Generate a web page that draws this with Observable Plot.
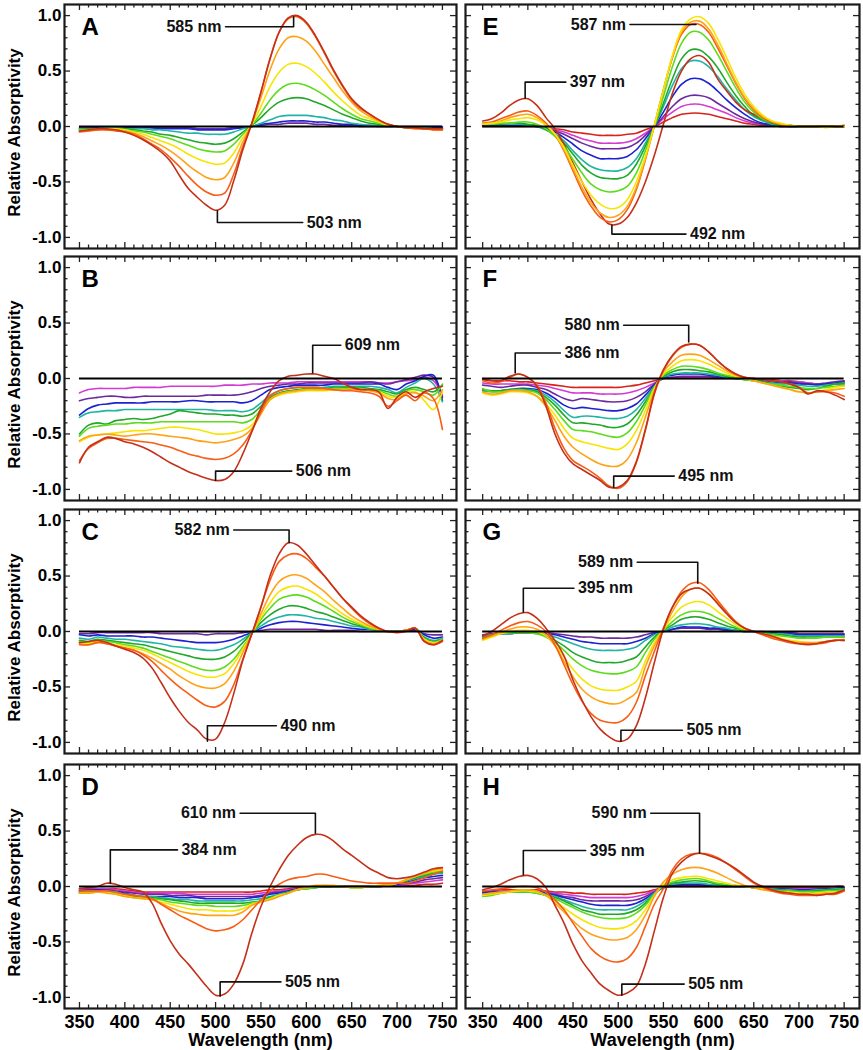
<!DOCTYPE html>
<html><head><meta charset="utf-8">
<script src="https://cdn.jsdelivr.net/npm/d3@7"></script>
<script src="https://cdn.jsdelivr.net/npm/@observablehq/plot@0.6"></script>
<style>
body{margin:0;background:#fff;font-family:"Liberation Sans",Arial,sans-serif;}
#fig{position:relative;width:863px;height:1050px;background:#fff;}
#fig svg{position:absolute;overflow:visible;}
</style></head><body><div id="fig"></div>
<script>
// ---------- data ----------
const wavelengths = [350,360,370,380,390,400,410,420,430,440,450,460,470,480,490,500,510,520,530,540,550,560,570,580,590,600,610,620,630,640,650,660,670,680,690,700,710,720,730,740,750];
const xTickLabels = [350,400,450,500,550,600,650,700,750];
const yTickLabels = [-1.0,-0.5,0.0,0.5,1.0];
const yTicks = [-1.0,-0.9,-0.8,-0.7,-0.6,-0.5,-0.4,-0.3,-0.2,-0.1,0,0.1,0.2,0.3,0.4,0.5,0.6,0.7,0.8,0.9,1.0];
const colorOf = {dr:"#c4301a", or:"#f75d14", og:"#ffa216", ye:"#f7e400", lg:"#5cdc1c", gr:"#21a82a", te:"#22b4a4", bl:"#1c22cf", pu:"#6c2a9e", ma:"#d43bd4", rd:"#d8231d"};

// Panel A
const A_keys = ["pu","bl","te","gr","lg","ye","og","or","dr"];
const A_values = [
[-0.01,-0.01,-0.01,-0.01,-0.01,-0.01,-0.01,-0.01,-0.01,-0.01,-0.01,-0.01,-0.01,-0.02,-0.02,-0.02,-0.02,-0.01,-0.01,0.00,0.01,0.02,0.02,0.03,0.03,0.03,0.02,0.02,0.01,0.01,0.01,0.00,0.00,0.00,0.00,0.00,0.00,0.00,0.00,0.00,0.00],
[-0.02,-0.02,-0.01,-0.01,-0.01,-0.01,-0.01,-0.01,-0.01,-0.02,-0.02,-0.02,-0.02,-0.03,-0.03,-0.03,-0.03,-0.02,-0.01,0.00,0.02,0.03,0.04,0.05,0.05,0.05,0.04,0.04,0.03,0.02,0.02,0.01,0.01,0.00,0.00,0.00,-0.01,-0.01,-0.01,-0.01,-0.01],
[-0.02,-0.02,-0.02,-0.01,-0.01,-0.02,-0.02,-0.02,-0.03,-0.03,-0.04,-0.05,-0.06,-0.06,-0.07,-0.07,-0.07,-0.05,-0.02,0.00,0.03,0.06,0.09,0.10,0.10,0.10,0.09,0.08,0.06,0.05,0.03,0.02,0.01,0.01,0.00,0.00,-0.01,-0.01,-0.01,-0.02,-0.02],
[-0.03,-0.02,-0.02,-0.02,-0.02,-0.02,-0.03,-0.04,-0.05,-0.07,-0.08,-0.10,-0.12,-0.14,-0.15,-0.16,-0.15,-0.11,-0.05,0.01,0.08,0.16,0.22,0.25,0.26,0.25,0.22,0.19,0.15,0.11,0.08,0.05,0.03,0.02,0.01,0.00,-0.01,-0.01,-0.02,-0.02,-0.02],
[-0.03,-0.03,-0.02,-0.02,-0.02,-0.03,-0.04,-0.05,-0.07,-0.09,-0.11,-0.14,-0.17,-0.20,-0.22,-0.23,-0.22,-0.16,-0.07,0.01,0.12,0.24,0.33,0.38,0.39,0.37,0.33,0.28,0.22,0.16,0.11,0.07,0.05,0.03,0.01,0.00,-0.01,-0.01,-0.02,-0.02,-0.02],
[-0.04,-0.03,-0.03,-0.02,-0.02,-0.03,-0.05,-0.07,-0.10,-0.13,-0.16,-0.20,-0.25,-0.29,-0.32,-0.34,-0.33,-0.24,-0.10,0.02,0.18,0.36,0.49,0.56,0.57,0.54,0.48,0.40,0.31,0.23,0.16,0.10,0.07,0.04,0.01,0.00,-0.01,-0.01,-0.02,-0.03,-0.03],
[-0.04,-0.04,-0.03,-0.03,-0.03,-0.04,-0.06,-0.09,-0.13,-0.17,-0.22,-0.28,-0.35,-0.41,-0.46,-0.48,-0.46,-0.33,-0.14,0.03,0.26,0.51,0.70,0.80,0.81,0.77,0.68,0.56,0.44,0.32,0.22,0.14,0.09,0.05,0.02,0.00,-0.01,-0.02,-0.02,-0.03,-0.03],
[-0.05,-0.04,-0.03,-0.03,-0.04,-0.05,-0.07,-0.11,-0.16,-0.21,-0.28,-0.36,-0.45,-0.53,-0.59,-0.62,-0.60,-0.43,-0.18,0.03,0.31,0.61,0.85,0.97,0.99,0.93,0.81,0.66,0.50,0.36,0.24,0.16,0.11,0.06,0.02,0.00,-0.01,-0.02,-0.02,-0.03,-0.03],
[-0.04,-0.03,-0.02,-0.02,-0.03,-0.05,-0.08,-0.12,-0.17,-0.23,-0.31,-0.44,-0.56,-0.64,-0.71,-0.755,-0.71,-0.49,-0.21,0.03,0.31,0.61,0.85,0.98,1.00,0.94,0.82,0.67,0.51,0.37,0.25,0.17,0.11,0.06,0.02,0.00,-0.01,-0.01,-0.02,-0.02,-0.02]
];
const A_notes = [
  {label:"585 nm", x:586, y:0.99, lx:511, ly:0.90, anchor:"end"},
  {label:"503 nm", x:502, y:-0.76, lx:596, ly:-0.865, anchor:"start"}
];

// Panel B
const B_keys = ["ma","pu","bl","te","gr","lg","ye","og","or","dr"];
const B_values = [
[-0.13,-0.10,-0.09,-0.09,-0.09,-0.09,-0.08,-0.08,-0.08,-0.08,-0.07,-0.07,-0.07,-0.07,-0.07,-0.07,-0.06,-0.06,-0.06,-0.05,-0.05,-0.04,-0.04,-0.04,-0.03,-0.03,-0.03,-0.03,-0.03,-0.03,-0.03,-0.03,-0.03,-0.04,-0.04,-0.03,-0.02,-0.01,0.01,-0.02,-0.15],
[-0.20,-0.18,-0.17,-0.16,-0.16,-0.17,-0.17,-0.16,-0.16,-0.16,-0.16,-0.16,-0.16,-0.16,-0.15,-0.15,-0.15,-0.15,-0.14,-0.12,-0.09,-0.07,-0.06,-0.05,-0.05,-0.04,-0.04,-0.04,-0.04,-0.04,-0.04,-0.04,-0.03,-0.04,-0.05,-0.03,-0.01,0.01,0.03,0.01,-0.17],
[-0.33,-0.27,-0.24,-0.23,-0.22,-0.22,-0.22,-0.22,-0.21,-0.21,-0.21,-0.21,-0.20,-0.20,-0.21,-0.21,-0.21,-0.21,-0.22,-0.20,-0.15,-0.10,-0.08,-0.07,-0.06,-0.06,-0.06,-0.06,-0.05,-0.05,-0.05,-0.05,-0.05,-0.05,-0.08,-0.10,-0.05,-0.02,0.02,0.03,-0.20],
[-0.35,-0.31,-0.30,-0.29,-0.29,-0.28,-0.28,-0.28,-0.28,-0.28,-0.28,-0.28,-0.28,-0.28,-0.28,-0.29,-0.29,-0.29,-0.30,-0.28,-0.22,-0.15,-0.11,-0.09,-0.08,-0.08,-0.08,-0.08,-0.07,-0.07,-0.07,-0.07,-0.07,-0.08,-0.10,-0.13,-0.08,-0.04,0.00,-0.05,-0.21],
[-0.50,-0.42,-0.40,-0.41,-0.38,-0.37,-0.36,-0.37,-0.36,-0.34,-0.32,-0.29,-0.30,-0.31,-0.32,-0.32,-0.33,-0.33,-0.34,-0.32,-0.25,-0.17,-0.13,-0.11,-0.10,-0.09,-0.09,-0.09,-0.08,-0.08,-0.08,-0.08,-0.09,-0.10,-0.12,-0.14,-0.10,-0.08,-0.10,-0.12,-0.06],
[-0.52,-0.45,-0.43,-0.42,-0.41,-0.41,-0.40,-0.40,-0.40,-0.39,-0.39,-0.39,-0.39,-0.39,-0.39,-0.39,-0.39,-0.39,-0.40,-0.37,-0.28,-0.19,-0.14,-0.12,-0.11,-0.10,-0.10,-0.10,-0.09,-0.09,-0.09,-0.09,-0.10,-0.11,-0.14,-0.16,-0.11,-0.10,-0.12,-0.15,-0.05],
[-0.57,-0.53,-0.51,-0.50,-0.49,-0.48,-0.47,-0.47,-0.46,-0.45,-0.44,-0.44,-0.45,-0.46,-0.48,-0.50,-0.50,-0.49,-0.47,-0.42,-0.30,-0.19,-0.15,-0.13,-0.12,-0.11,-0.11,-0.11,-0.10,-0.10,-0.10,-0.10,-0.11,-0.12,-0.16,-0.17,-0.13,-0.12,-0.20,-0.28,-0.12],
[-0.56,-0.52,-0.51,-0.50,-0.51,-0.52,-0.51,-0.50,-0.50,-0.51,-0.52,-0.53,-0.54,-0.56,-0.57,-0.58,-0.57,-0.55,-0.52,-0.45,-0.32,-0.19,-0.14,-0.12,-0.11,-0.10,-0.10,-0.10,-0.10,-0.10,-0.10,-0.10,-0.11,-0.13,-0.18,-0.19,-0.14,-0.13,-0.16,-0.20,-0.10],
[-0.74,-0.63,-0.58,-0.54,-0.54,-0.55,-0.56,-0.57,-0.58,-0.60,-0.62,-0.65,-0.68,-0.70,-0.72,-0.73,-0.72,-0.68,-0.60,-0.47,-0.30,-0.16,-0.11,-0.09,-0.08,-0.08,-0.08,-0.09,-0.10,-0.11,-0.11,-0.12,-0.13,-0.16,-0.25,-0.20,-0.15,-0.20,-0.13,-0.18,-0.46],
[-0.76,-0.62,-0.57,-0.53,-0.54,-0.57,-0.59,-0.62,-0.66,-0.71,-0.76,-0.80,-0.84,-0.87,-0.90,-0.92,-0.91,-0.84,-0.68,-0.48,-0.27,-0.12,-0.02,0.02,0.03,0.04,0.04,0.02,0.00,-0.04,-0.08,-0.10,-0.10,-0.12,-0.27,-0.17,-0.12,-0.17,-0.12,-0.09,-0.07]
];
const B_notes = [
  {label:"609 nm", x:607, y:0.05, lx:638, ly:0.30, anchor:"start"},
  {label:"506 nm", x:500, y:-0.92, lx:584, ly:-0.835, anchor:"start"}
];

// Panel C
const C_keys = ["pu","bl","te","gr","lg","ye","og","or","dr"];
const C_values = [
[-0.02,-0.02,-0.01,-0.01,-0.01,-0.01,-0.01,-0.01,-0.01,-0.02,-0.02,-0.02,-0.02,-0.02,-0.03,-0.02,-0.02,-0.02,-0.01,0.00,0.01,0.02,0.02,0.02,0.02,0.02,0.02,0.01,0.01,0.01,0.01,0.00,0.00,0.00,0.00,0.00,0.01,0.01,-0.02,-0.03,-0.03],
[-0.03,-0.04,-0.03,-0.04,-0.04,-0.04,-0.04,-0.05,-0.05,-0.06,-0.07,-0.08,-0.09,-0.10,-0.10,-0.10,-0.09,-0.07,-0.04,-0.01,0.03,0.06,0.08,0.09,0.09,0.08,0.07,0.06,0.05,0.04,0.03,0.02,0.02,0.01,0.00,0.00,0.01,0.02,-0.03,-0.06,-0.05],
[-0.06,-0.07,-0.05,-0.06,-0.07,-0.07,-0.08,-0.09,-0.10,-0.11,-0.13,-0.14,-0.15,-0.16,-0.17,-0.17,-0.15,-0.12,-0.07,-0.01,0.05,0.10,0.13,0.15,0.15,0.14,0.12,0.11,0.09,0.07,0.05,0.04,0.02,0.01,0.00,0.00,0.01,0.03,-0.05,-0.08,-0.06],
[-0.08,-0.09,-0.07,-0.08,-0.09,-0.10,-0.11,-0.12,-0.14,-0.16,-0.18,-0.20,-0.22,-0.24,-0.25,-0.25,-0.23,-0.18,-0.10,-0.01,0.08,0.15,0.20,0.23,0.23,0.21,0.18,0.16,0.13,0.10,0.07,0.05,0.03,0.01,0.00,0.00,0.01,0.03,-0.06,-0.09,-0.07],
[-0.09,-0.10,-0.08,-0.09,-0.10,-0.12,-0.13,-0.15,-0.18,-0.21,-0.24,-0.27,-0.30,-0.33,-0.35,-0.35,-0.32,-0.25,-0.14,-0.02,0.11,0.21,0.29,0.32,0.33,0.31,0.27,0.23,0.18,0.13,0.09,0.06,0.03,0.01,0.00,0.00,0.01,0.03,-0.07,-0.10,-0.07],
[-0.10,-0.11,-0.09,-0.10,-0.12,-0.13,-0.15,-0.17,-0.20,-0.24,-0.28,-0.32,-0.36,-0.39,-0.41,-0.41,-0.38,-0.29,-0.16,-0.02,0.13,0.26,0.36,0.40,0.41,0.38,0.34,0.28,0.22,0.16,0.11,0.07,0.04,0.02,0.00,0.00,0.01,0.03,-0.07,-0.10,-0.08],
[-0.11,-0.12,-0.10,-0.11,-0.13,-0.15,-0.17,-0.20,-0.24,-0.29,-0.34,-0.40,-0.45,-0.49,-0.51,-0.51,-0.47,-0.36,-0.19,-0.02,0.16,0.33,0.45,0.50,0.51,0.48,0.42,0.36,0.28,0.21,0.14,0.09,0.05,0.02,0.00,0.00,0.01,0.03,-0.08,-0.11,-0.08],
[-0.12,-0.12,-0.10,-0.11,-0.13,-0.15,-0.17,-0.21,-0.27,-0.35,-0.43,-0.50,-0.56,-0.62,-0.67,-0.68,-0.63,-0.48,-0.25,-0.02,0.22,0.46,0.63,0.69,0.70,0.66,0.58,0.50,0.40,0.30,0.21,0.13,0.07,0.03,0.00,0.00,0.01,0.03,-0.09,-0.12,-0.09],
[-0.10,-0.09,-0.08,-0.10,-0.13,-0.16,-0.19,-0.24,-0.33,-0.46,-0.60,-0.72,-0.82,-0.89,-0.97,-0.97,-0.82,-0.56,-0.26,-0.02,0.22,0.50,0.70,0.80,0.78,0.70,0.60,0.50,0.40,0.30,0.22,0.14,0.08,0.03,0.00,-0.01,0.00,0.03,-0.09,-0.12,-0.08]
];
const C_notes = [
  {label:"582 nm", x:581, y:0.80, lx:520, ly:0.915, anchor:"end"},
  {label:"490 nm", x:491, y:-0.99, lx:567, ly:-0.85, anchor:"start"}
];

// Panel D
const D_keys = ["rd","ma","pu","bl","te","gr","lg","ye","og","or","dr"];
const D_values = [
[-0.02,-0.02,-0.02,-0.02,-0.02,-0.03,-0.04,-0.05,-0.05,-0.05,-0.05,-0.05,-0.05,-0.05,-0.05,-0.05,-0.05,-0.05,-0.05,-0.05,-0.04,-0.03,-0.03,-0.02,-0.01,-0.01,0.00,0.00,0.00,0.00,0.00,0.00,0.00,0.00,0.01,0.01,0.01,0.01,0.02,0.02,0.03],
[-0.03,-0.03,-0.02,-0.02,-0.03,-0.04,-0.05,-0.06,-0.06,-0.06,-0.06,-0.06,-0.07,-0.07,-0.07,-0.07,-0.07,-0.07,-0.07,-0.07,-0.06,-0.05,-0.04,-0.03,-0.02,-0.01,0.00,0.00,0.00,0.00,0.00,0.00,0.00,0.00,0.01,0.01,0.02,0.03,0.04,0.05,0.06],
[-0.04,-0.03,-0.03,-0.03,-0.04,-0.05,-0.06,-0.07,-0.07,-0.07,-0.08,-0.08,-0.08,-0.09,-0.09,-0.09,-0.09,-0.09,-0.09,-0.09,-0.08,-0.06,-0.05,-0.04,-0.02,-0.01,0.00,0.00,0.00,0.00,0.00,0.00,0.00,0.00,0.01,0.02,0.03,0.04,0.06,0.07,0.08],
[-0.04,-0.04,-0.03,-0.04,-0.05,-0.06,-0.08,-0.09,-0.09,-0.09,-0.09,-0.10,-0.10,-0.10,-0.11,-0.11,-0.11,-0.11,-0.11,-0.10,-0.09,-0.07,-0.06,-0.04,-0.03,-0.01,0.00,0.00,0.00,0.00,0.00,0.00,0.00,0.00,0.01,0.02,0.04,0.06,0.08,0.09,0.10],
[-0.05,-0.04,-0.04,-0.04,-0.05,-0.07,-0.08,-0.09,-0.09,-0.10,-0.11,-0.12,-0.12,-0.13,-0.13,-0.13,-0.13,-0.13,-0.13,-0.12,-0.11,-0.09,-0.07,-0.05,-0.03,-0.02,-0.01,0.00,0.00,0.00,0.00,0.00,0.00,0.00,0.01,0.03,0.05,0.07,0.09,0.11,0.12],
[-0.05,-0.05,-0.04,-0.05,-0.06,-0.07,-0.09,-0.10,-0.10,-0.11,-0.12,-0.13,-0.14,-0.15,-0.15,-0.15,-0.15,-0.15,-0.15,-0.14,-0.13,-0.10,-0.08,-0.05,-0.03,-0.02,-0.01,0.00,0.00,0.00,-0.01,-0.01,0.00,0.00,0.01,0.03,0.05,0.08,0.10,0.12,0.13],
[-0.06,-0.05,-0.05,-0.05,-0.06,-0.08,-0.10,-0.10,-0.11,-0.12,-0.14,-0.15,-0.16,-0.17,-0.17,-0.18,-0.18,-0.18,-0.17,-0.15,-0.13,-0.11,-0.08,-0.06,-0.03,-0.02,-0.01,0.00,0.00,0.00,-0.01,-0.01,0.00,0.00,0.01,0.03,0.06,0.09,0.11,0.13,0.14],
[-0.06,-0.06,-0.05,-0.05,-0.07,-0.08,-0.10,-0.11,-0.12,-0.14,-0.16,-0.18,-0.20,-0.21,-0.21,-0.22,-0.22,-0.22,-0.20,-0.16,-0.14,-0.11,-0.08,-0.06,-0.03,-0.01,0.00,0.01,0.00,0.00,-0.01,-0.01,0.00,0.00,0.01,0.03,0.06,0.09,0.12,0.14,0.15],
[-0.06,-0.06,-0.05,-0.06,-0.07,-0.09,-0.10,-0.11,-0.12,-0.15,-0.19,-0.22,-0.24,-0.25,-0.26,-0.26,-0.26,-0.26,-0.23,-0.17,-0.14,-0.12,-0.09,-0.06,-0.03,-0.01,0.01,0.01,0.01,0.00,0.00,0.00,0.00,0.01,0.02,0.03,0.06,0.09,0.12,0.15,0.16],
[-0.04,-0.04,-0.04,-0.04,-0.05,-0.07,-0.08,-0.09,-0.11,-0.16,-0.21,-0.26,-0.30,-0.34,-0.38,-0.40,-0.39,-0.36,-0.30,-0.21,-0.12,-0.04,0.02,0.06,0.08,0.09,0.11,0.11,0.09,0.07,0.05,0.04,0.03,0.03,0.03,0.03,0.03,0.05,0.08,0.11,0.14],
[-0.02,-0.01,0.00,0.03,0.02,-0.01,-0.03,-0.05,-0.15,-0.33,-0.49,-0.61,-0.70,-0.80,-0.90,-0.98,-0.97,-0.88,-0.70,-0.42,-0.18,0.00,0.15,0.28,0.37,0.44,0.47,0.46,0.41,0.34,0.28,0.22,0.16,0.12,0.08,0.07,0.08,0.10,0.13,0.16,0.17]
];
const D_notes = [
  {label:"610 nm", x:610, y:0.48, lx:527, ly:0.66, anchor:"end"},
  {label:"384 nm", x:384, y:0.03, lx:458, ly:0.33, anchor:"start"},
  {label:"505 nm", x:505, y:-0.99, lx:572, ly:-0.86, anchor:"start"}
];

// Panel E
const E_keys = ["rd","ma","pu","bl","te","gr","dr","lg","or","og","ye"];
const E_values = [
[0.00,0.00,0.00,0.00,0.00,0.00,0.00,-0.01,-0.02,-0.03,-0.05,-0.06,-0.07,-0.08,-0.08,-0.08,-0.07,-0.06,-0.03,0.00,0.04,0.08,0.11,0.12,0.12,0.11,0.09,0.07,0.05,0.03,0.02,0.01,0.01,0.00,0.00,0.00,0.00,0.00,0.00,0.00,0.00],
[0.01,0.01,0.01,0.01,0.01,0.01,0.00,-0.01,-0.03,-0.05,-0.08,-0.11,-0.13,-0.15,-0.15,-0.15,-0.14,-0.11,-0.06,0.00,0.07,0.13,0.18,0.20,0.20,0.18,0.15,0.12,0.08,0.05,0.03,0.02,0.01,0.00,0.00,0.00,0.00,0.00,0.00,0.00,0.00],
[0.01,0.01,0.01,0.01,0.01,0.01,0.00,-0.01,-0.04,-0.07,-0.11,-0.15,-0.18,-0.20,-0.20,-0.20,-0.19,-0.15,-0.08,0.00,0.09,0.18,0.25,0.28,0.28,0.26,0.21,0.16,0.11,0.07,0.04,0.02,0.01,0.00,0.00,0.00,0.00,0.00,0.00,0.00,0.00],
[0.01,0.01,0.01,0.01,0.01,0.01,0.00,-0.02,-0.05,-0.10,-0.16,-0.22,-0.26,-0.29,-0.29,-0.29,-0.27,-0.21,-0.11,0.00,0.13,0.27,0.38,0.43,0.43,0.39,0.32,0.24,0.17,0.11,0.06,0.03,0.02,0.01,0.00,0.00,0.00,0.00,0.00,0.00,0.00],
[0.02,0.02,0.02,0.02,0.02,0.01,0.00,-0.03,-0.07,-0.13,-0.22,-0.30,-0.36,-0.39,-0.40,-0.40,-0.37,-0.29,-0.15,0.00,0.18,0.37,0.52,0.59,0.59,0.54,0.45,0.34,0.24,0.15,0.09,0.05,0.02,0.01,0.00,0.00,0.00,0.00,0.00,0.00,0.00],
[0.02,0.02,0.02,0.03,0.03,0.02,0.01,-0.03,-0.08,-0.15,-0.25,-0.35,-0.42,-0.46,-0.47,-0.47,-0.44,-0.34,-0.18,0.00,0.21,0.43,0.61,0.69,0.69,0.63,0.53,0.40,0.28,0.18,0.10,0.06,0.03,0.01,0.00,0.00,0.00,0.00,0.00,0.00,0.00],
[0.05,0.07,0.12,0.19,0.24,0.25,0.19,0.08,-0.02,-0.16,-0.33,-0.50,-0.66,-0.79,-0.88,-0.88,-0.82,-0.69,-0.50,-0.26,0.02,0.30,0.50,0.61,0.64,0.58,0.43,0.32,0.22,0.15,0.11,0.07,0.04,0.02,0.01,0.00,0.00,0.00,0.00,0.00,0.01],
[0.02,0.02,0.03,0.03,0.04,0.04,0.02,-0.02,-0.09,-0.18,-0.30,-0.42,-0.52,-0.57,-0.59,-0.58,-0.54,-0.42,-0.22,0.00,0.27,0.54,0.75,0.85,0.85,0.78,0.65,0.50,0.35,0.22,0.13,0.07,0.04,0.02,0.01,0.00,0.00,0.00,0.00,0.00,0.00],
[0.03,0.04,0.07,0.10,0.13,0.14,0.10,0.03,-0.07,-0.22,-0.40,-0.58,-0.72,-0.82,-0.86,-0.84,-0.75,-0.57,-0.30,0.01,0.33,0.62,0.83,0.92,0.92,0.85,0.71,0.55,0.39,0.25,0.15,0.08,0.04,0.02,0.01,0.00,0.00,0.00,0.00,0.00,0.00],
[0.03,0.03,0.05,0.08,0.10,0.11,0.08,0.02,-0.07,-0.21,-0.38,-0.55,-0.69,-0.78,-0.82,-0.80,-0.72,-0.55,-0.29,0.01,0.33,0.63,0.85,0.94,0.95,0.88,0.74,0.57,0.40,0.26,0.16,0.09,0.05,0.02,0.01,0.00,0.00,0.00,0.00,0.00,0.00],
[0.02,0.03,0.04,0.06,0.07,0.08,0.06,0.01,-0.07,-0.19,-0.35,-0.50,-0.62,-0.70,-0.74,-0.73,-0.66,-0.50,-0.27,0.01,0.33,0.64,0.87,0.97,0.99,0.93,0.79,0.62,0.44,0.29,0.18,0.10,0.05,0.03,0.01,0.00,0.00,0.00,-0.01,0.00,0.00]
];
const E_notes = [
  {label:"587 nm", x:586, y:0.92, lx:513, ly:0.92, anchor:"end"},
  {label:"397 nm", x:397, y:0.255, lx:442, ly:0.40, anchor:"start"},
  {label:"492 nm", x:493, y:-0.89, lx:575, ly:-0.97, anchor:"start"}
];

// Panel F
const F_keys = ["rd","ma","pu","bl","te","gr","lg","ye","og","or","dr"];
const F_values = [
[-0.01,-0.02,-0.02,-0.02,-0.03,-0.03,-0.04,-0.05,-0.06,-0.07,-0.08,-0.08,-0.08,-0.08,-0.08,-0.08,-0.07,-0.06,-0.04,-0.02,0.00,0.00,0.00,0.00,0.00,0.00,0.00,0.00,0.00,0.00,0.00,-0.01,-0.01,-0.02,-0.02,-0.03,-0.04,-0.05,-0.05,-0.05,-0.05],
[-0.04,-0.05,-0.05,-0.05,-0.05,-0.05,-0.06,-0.07,-0.09,-0.11,-0.13,-0.13,-0.13,-0.14,-0.14,-0.14,-0.13,-0.11,-0.08,-0.04,0.00,0.01,0.01,0.01,0.01,0.01,0.00,0.00,0.00,0.00,-0.01,-0.01,-0.02,-0.02,-0.03,-0.03,-0.04,-0.05,-0.05,-0.05,-0.04],
[-0.06,-0.07,-0.08,-0.07,-0.06,-0.06,-0.08,-0.10,-0.14,-0.18,-0.20,-0.18,-0.19,-0.20,-0.21,-0.21,-0.20,-0.17,-0.12,-0.05,0.00,0.01,0.02,0.02,0.02,0.02,0.01,0.01,0.00,0.00,-0.01,-0.02,-0.02,-0.03,-0.03,-0.04,-0.05,-0.05,-0.04,-0.03,-0.02],
[-0.11,-0.11,-0.11,-0.10,-0.09,-0.09,-0.10,-0.13,-0.18,-0.24,-0.27,-0.26,-0.27,-0.28,-0.29,-0.29,-0.27,-0.23,-0.15,-0.06,0.01,0.03,0.04,0.04,0.04,0.03,0.02,0.01,0.00,0.00,-0.01,-0.02,-0.03,-0.04,-0.04,-0.05,-0.05,-0.06,-0.05,-0.04,-0.03],
[-0.11,-0.12,-0.11,-0.10,-0.10,-0.10,-0.11,-0.15,-0.21,-0.29,-0.35,-0.34,-0.34,-0.35,-0.36,-0.36,-0.34,-0.28,-0.18,-0.07,0.01,0.04,0.05,0.05,0.05,0.04,0.03,0.01,0.00,-0.01,-0.02,-0.03,-0.04,-0.05,-0.05,-0.06,-0.07,-0.07,-0.06,-0.05,-0.04],
[-0.10,-0.11,-0.11,-0.10,-0.10,-0.10,-0.12,-0.17,-0.24,-0.33,-0.40,-0.40,-0.41,-0.42,-0.44,-0.44,-0.41,-0.33,-0.21,-0.08,0.02,0.06,0.08,0.08,0.07,0.06,0.04,0.02,0.00,-0.01,-0.02,-0.03,-0.05,-0.07,-0.08,-0.09,-0.10,-0.09,-0.07,-0.05,-0.04],
[-0.09,-0.12,-0.12,-0.11,-0.10,-0.11,-0.13,-0.19,-0.28,-0.38,-0.46,-0.47,-0.48,-0.50,-0.52,-0.53,-0.49,-0.39,-0.24,-0.08,0.03,0.08,0.11,0.11,0.10,0.08,0.05,0.03,0.01,-0.01,-0.02,-0.04,-0.05,-0.06,-0.07,-0.08,-0.09,-0.09,-0.08,-0.07,-0.06],
[-0.13,-0.15,-0.14,-0.12,-0.12,-0.13,-0.16,-0.23,-0.33,-0.45,-0.54,-0.57,-0.59,-0.61,-0.63,-0.64,-0.59,-0.47,-0.29,-0.09,0.04,0.11,0.16,0.17,0.16,0.13,0.09,0.05,0.02,0.00,-0.02,-0.04,-0.06,-0.08,-0.10,-0.12,-0.13,-0.12,-0.10,-0.08,-0.07],
[-0.12,-0.14,-0.13,-0.11,-0.11,-0.12,-0.16,-0.25,-0.38,-0.52,-0.62,-0.68,-0.73,-0.77,-0.79,-0.79,-0.73,-0.58,-0.35,-0.11,0.06,0.15,0.21,0.22,0.21,0.17,0.12,0.07,0.03,0.00,-0.02,-0.04,-0.06,-0.08,-0.10,-0.12,-0.13,-0.12,-0.11,-0.10,-0.09],
[-0.02,-0.04,-0.03,0.01,0.04,0.01,-0.06,-0.22,-0.45,-0.63,-0.74,-0.79,-0.84,-0.90,-0.97,-0.99,-0.93,-0.76,-0.47,-0.14,0.07,0.20,0.28,0.31,0.30,0.24,0.16,0.09,0.04,0.01,0.00,-0.01,-0.02,-0.03,-0.05,-0.08,-0.13,-0.12,-0.12,-0.13,-0.16],
[0.00,-0.02,-0.02,0.02,0.04,0.01,-0.07,-0.25,-0.50,-0.67,-0.77,-0.82,-0.87,-0.92,-0.98,-0.98,-0.92,-0.75,-0.46,-0.13,0.08,0.21,0.29,0.31,0.30,0.24,0.16,0.09,0.04,0.01,0.00,-0.01,-0.02,-0.03,-0.05,-0.08,-0.14,-0.11,-0.12,-0.15,-0.19]
];
const F_notes = [
  {label:"580 nm", x:578, y:0.33, lx:506, ly:0.48, anchor:"end"},
  {label:"386 nm", x:386, y:0.05, lx:436, ly:0.23, anchor:"start"},
  {label:"495 nm", x:495, y:-0.98, lx:562, ly:-0.88, anchor:"start"}
];

// Panel G
const G_keys = ["pu","bl","te","gr","lg","ye","og","or","dr"];
const G_values = [
[-0.03,-0.02,-0.02,-0.01,-0.01,-0.01,-0.01,-0.01,-0.02,-0.03,-0.04,-0.05,-0.05,-0.06,-0.06,-0.06,-0.06,-0.05,-0.03,-0.01,0.00,0.02,0.03,0.03,0.03,0.02,0.02,0.01,0.01,0.00,0.00,0.00,-0.01,-0.01,-0.01,-0.02,-0.02,-0.02,-0.02,-0.02,-0.02],
[-0.04,-0.03,-0.02,-0.02,-0.01,-0.01,-0.01,-0.02,-0.03,-0.05,-0.07,-0.09,-0.10,-0.11,-0.11,-0.11,-0.11,-0.09,-0.06,-0.02,0.00,0.02,0.04,0.04,0.04,0.03,0.03,0.02,0.01,0.00,0.00,-0.01,-0.01,-0.02,-0.02,-0.03,-0.03,-0.03,-0.03,-0.03,-0.03],
[-0.05,-0.03,-0.02,-0.02,-0.01,-0.01,-0.01,-0.03,-0.05,-0.08,-0.11,-0.14,-0.16,-0.17,-0.17,-0.17,-0.16,-0.14,-0.08,-0.03,0.00,0.04,0.06,0.07,0.07,0.06,0.04,0.03,0.01,0.00,0.00,-0.01,-0.02,-0.02,-0.03,-0.04,-0.04,-0.04,-0.04,-0.04,-0.04],
[-0.05,-0.03,-0.02,-0.01,-0.01,-0.01,-0.02,-0.04,-0.08,-0.13,-0.19,-0.23,-0.26,-0.28,-0.28,-0.28,-0.26,-0.23,-0.14,-0.05,0.01,0.06,0.11,0.13,0.13,0.11,0.08,0.05,0.03,0.01,0.00,-0.01,-0.02,-0.03,-0.04,-0.05,-0.05,-0.05,-0.05,-0.05,-0.05],
[-0.06,-0.04,-0.02,-0.01,-0.01,-0.01,-0.02,-0.05,-0.10,-0.17,-0.25,-0.31,-0.35,-0.37,-0.38,-0.38,-0.36,-0.32,-0.19,-0.07,0.01,0.09,0.15,0.18,0.18,0.16,0.12,0.08,0.04,0.01,0.00,-0.02,-0.03,-0.04,-0.05,-0.06,-0.06,-0.06,-0.05,-0.05,-0.05],
[-0.08,-0.05,-0.02,0.00,0.01,0.01,0.00,-0.04,-0.12,-0.23,-0.34,-0.43,-0.49,-0.52,-0.53,-0.53,-0.50,-0.45,-0.27,-0.10,0.02,0.13,0.22,0.26,0.27,0.24,0.18,0.12,0.06,0.02,0.00,-0.02,-0.04,-0.06,-0.08,-0.09,-0.10,-0.10,-0.09,-0.08,-0.08],
[-0.07,-0.04,-0.01,0.02,0.04,0.04,0.02,-0.03,-0.13,-0.27,-0.41,-0.52,-0.59,-0.63,-0.65,-0.65,-0.61,-0.55,-0.32,-0.13,0.02,0.18,0.31,0.38,0.39,0.34,0.26,0.17,0.09,0.03,0.00,-0.03,-0.05,-0.07,-0.09,-0.10,-0.10,-0.10,-0.09,-0.08,-0.07],
[-0.06,-0.03,0.01,0.05,0.08,0.09,0.06,0.00,-0.12,-0.30,-0.48,-0.63,-0.74,-0.80,-0.82,-0.82,-0.77,-0.64,-0.40,-0.18,0.03,0.22,0.36,0.43,0.44,0.38,0.28,0.18,0.09,0.03,0.00,-0.03,-0.06,-0.08,-0.10,-0.11,-0.11,-0.11,-0.10,-0.08,-0.08],
[-0.04,0.00,0.06,0.12,0.16,0.17,0.12,0.03,-0.08,-0.22,-0.44,-0.62,-0.77,-0.88,-0.95,-0.99,-0.97,-0.85,-0.60,-0.28,0.02,0.22,0.34,0.38,0.39,0.34,0.25,0.16,0.08,0.03,0.00,-0.02,-0.04,-0.07,-0.09,-0.11,-0.12,-0.11,-0.09,-0.08,-0.08]
];
const G_notes = [
  {label:"589 nm", x:588, y:0.435, lx:521, ly:0.625, anchor:"end"},
  {label:"395 nm", x:395, y:0.175, lx:451, ly:0.39, anchor:"start"},
  {label:"505 nm", x:503, y:-0.99, lx:571, ly:-0.89, anchor:"start"}
];

// Panel H
const H_keys = ["rd","ma","pu","bl","te","gr","lg","ye","og","or","dr"];
const H_values = [
[-0.04,-0.04,-0.03,-0.03,-0.03,-0.03,-0.03,-0.04,-0.05,-0.05,-0.06,-0.06,-0.07,-0.07,-0.07,-0.07,-0.07,-0.06,-0.05,-0.03,-0.01,0.00,0.00,0.00,0.00,0.00,0.00,0.00,0.00,0.00,0.00,-0.01,-0.01,-0.01,-0.01,-0.01,-0.01,-0.01,-0.01,0.00,0.00],
[-0.05,-0.05,-0.04,-0.04,-0.04,-0.04,-0.04,-0.05,-0.06,-0.07,-0.08,-0.09,-0.10,-0.10,-0.10,-0.10,-0.10,-0.09,-0.07,-0.04,-0.01,0.00,0.00,0.00,0.00,0.00,0.00,0.00,0.00,0.00,-0.01,-0.01,-0.02,-0.02,-0.02,-0.02,-0.02,-0.02,-0.02,-0.01,-0.01],
[-0.05,-0.05,-0.05,-0.04,-0.04,-0.04,-0.04,-0.06,-0.07,-0.09,-0.10,-0.12,-0.13,-0.13,-0.13,-0.13,-0.13,-0.12,-0.09,-0.05,-0.01,0.01,0.01,0.01,0.01,0.01,0.00,0.00,0.00,0.00,-0.01,-0.01,-0.02,-0.02,-0.02,-0.03,-0.03,-0.02,-0.02,-0.02,-0.01],
[-0.06,-0.05,-0.05,-0.05,-0.05,-0.05,-0.05,-0.06,-0.08,-0.10,-0.12,-0.14,-0.16,-0.17,-0.17,-0.17,-0.17,-0.15,-0.11,-0.06,-0.01,0.01,0.02,0.02,0.02,0.01,0.01,0.00,0.00,0.00,-0.01,-0.01,-0.02,-0.02,-0.03,-0.03,-0.03,-0.03,-0.02,-0.02,-0.01],
[-0.07,-0.06,-0.05,-0.05,-0.05,-0.05,-0.05,-0.07,-0.09,-0.12,-0.15,-0.18,-0.20,-0.21,-0.21,-0.21,-0.21,-0.18,-0.13,-0.06,0.00,0.02,0.03,0.03,0.03,0.02,0.01,0.00,0.00,0.00,-0.01,-0.02,-0.02,-0.03,-0.03,-0.04,-0.04,-0.03,-0.03,-0.02,-0.02],
[-0.08,-0.07,-0.06,-0.05,-0.05,-0.05,-0.06,-0.08,-0.10,-0.13,-0.17,-0.21,-0.23,-0.25,-0.25,-0.25,-0.24,-0.21,-0.15,-0.07,0.00,0.03,0.04,0.05,0.05,0.04,0.02,0.01,0.00,0.00,-0.01,-0.02,-0.03,-0.03,-0.04,-0.04,-0.04,-0.04,-0.03,-0.03,-0.02],
[-0.09,-0.08,-0.06,-0.05,-0.05,-0.05,-0.06,-0.08,-0.11,-0.15,-0.19,-0.23,-0.26,-0.28,-0.29,-0.29,-0.28,-0.24,-0.17,-0.07,0.01,0.04,0.06,0.07,0.07,0.05,0.03,0.02,0.01,0.00,-0.01,-0.02,-0.03,-0.04,-0.04,-0.05,-0.05,-0.05,-0.04,-0.04,-0.03],
[-0.08,-0.07,-0.06,-0.05,-0.04,-0.04,-0.05,-0.08,-0.13,-0.19,-0.25,-0.30,-0.34,-0.37,-0.38,-0.38,-0.36,-0.31,-0.21,-0.08,0.02,0.06,0.08,0.09,0.09,0.07,0.05,0.03,0.01,0.00,-0.01,-0.02,-0.04,-0.05,-0.05,-0.06,-0.06,-0.06,-0.05,-0.05,-0.04],
[-0.07,-0.06,-0.05,-0.04,-0.03,-0.03,-0.04,-0.08,-0.15,-0.23,-0.31,-0.38,-0.43,-0.46,-0.48,-0.48,-0.46,-0.39,-0.26,-0.09,0.04,0.11,0.15,0.17,0.17,0.15,0.12,0.08,0.04,0.01,-0.01,-0.03,-0.04,-0.05,-0.06,-0.07,-0.07,-0.07,-0.06,-0.06,-0.04],
[-0.04,-0.03,-0.02,-0.01,0.00,0.00,-0.01,-0.05,-0.12,-0.21,-0.33,-0.45,-0.56,-0.63,-0.67,-0.68,-0.65,-0.55,-0.36,-0.16,-0.02,0.15,0.25,0.29,0.30,0.29,0.26,0.21,0.15,0.09,0.03,-0.01,-0.04,-0.06,-0.07,-0.08,-0.08,-0.08,-0.07,-0.07,-0.04],
[-0.03,-0.01,0.02,0.06,0.09,0.10,0.07,-0.01,-0.17,-0.33,-0.52,-0.67,-0.78,-0.88,-0.94,-0.98,-0.96,-0.90,-0.70,-0.40,-0.10,0.12,0.22,0.28,0.30,0.28,0.25,0.21,0.16,0.10,0.04,0.00,-0.03,-0.05,-0.06,-0.07,-0.07,-0.08,-0.07,-0.06,-0.03]
];
const H_notes = [
  {label:"590 nm", x:590, y:0.30, lx:536, ly:0.66, anchor:"end"},
  {label:"395 nm", x:395, y:0.105, lx:464, ly:0.325, anchor:"start"},
  {label:"505 nm", x:504, y:-0.98, lx:573, ly:-0.88, anchor:"start"}
];

// ---------- layout ----------
const panels = [
  {letter:"A", col:0, row:0, keys:A_keys, values:A_values, notes:A_notes},
  {letter:"B", col:0, row:1, keys:B_keys, values:B_values, notes:B_notes},
  {letter:"C", col:0, row:2, keys:C_keys, values:C_values, notes:C_notes},
  {letter:"D", col:0, row:3, keys:D_keys, values:D_values, notes:D_notes},
  {letter:"E", col:1, row:0, keys:E_keys, values:E_values, notes:E_notes},
  {letter:"F", col:1, row:1, keys:F_keys, values:F_values, notes:F_notes},
  {letter:"G", col:1, row:2, keys:G_keys, values:G_values, notes:G_notes},
  {letter:"H", col:1, row:3, keys:H_keys, values:H_values, notes:H_notes}
];
const colLeft = [64, 465], colWidth = [392, 394];
const rowTop = [4, 256, 509, 764];
const FH = 244;
const FONT = "'Liberation Sans', Arial, Helvetica, sans-serif";
const fig = document.getElementById("fig");

const isMajorX = d => d % 50 === 0;
const isMajorY = d => Math.abs(d * 2 - Math.round(d * 2)) < 1e-9;

for (const p of panels) {
  const left = p.col === 0, bottom = p.row === 3;
  const W = colWidth[p.col];
  const mL = left ? 64 : 3, mR = 3, mT = 3, mB = bottom ? 48 : 3;
  const xDom = left ? [333.5, 765.5] : [331, 767];
  const maj = 6, min = 3.5;
  const marks = [];
  // spectra
  p.keys.forEach((k, i) => {
    const rows = wavelengths.map((w, j) => ({wl: w, v: p.values[i][j]}));
    marks.push(Plot.line(rows, {x: "wl", y: "v", stroke: colorOf[k], strokeWidth: 1.6, curve: "catmull-rom"}));
  });
  // zero line
  marks.push(Plot.ruleY([0], {x1: 350, x2: 750, stroke: "#000", strokeWidth: 2}));
  // leaders
  const leaders = [];
  p.notes.forEach((n, i) => {
    leaders.push({id: i, x: n.x, y: n.y}, {id: i, x: n.x, y: n.ly}, {id: i, x: n.lx, y: n.ly});
  });
  marks.push(Plot.line(leaders, {x: "x", y: "y", z: "id", stroke: "#111", strokeWidth: 1.6}));
  marks.push(Plot.text(p.notes.filter(n => n.anchor === "start"), {x: "lx", y: "ly", text: "label", textAnchor: "start", lineAnchor: "middle", dx: 4, fontSize: 16, fontWeight: "bold", fill: "#111"}));
  marks.push(Plot.text(p.notes.filter(n => n.anchor === "end"), {x: "lx", y: "ly", text: "label", textAnchor: "end", lineAnchor: "middle", dx: -4, fontSize: 16, fontWeight: "bold", fill: "#111"}));
  // ticks (inward, all four sides)
  const xMaj = wavelengths.filter(isMajorX), xMin = wavelengths.filter(d => !isMajorX(d));
  const yMaj = yTicks.filter(isMajorY), yMin = yTicks.filter(d => !isMajorY(d));
  const tk = {stroke: "#222", strokeWidth: 1.3};
  marks.push(Plot.tickX(xMaj, {x: d => d, insetTop: FH - maj, ...tk}));
  marks.push(Plot.tickX(xMin, {x: d => d, insetTop: FH - min, ...tk}));
  marks.push(Plot.tickX(xMaj, {x: d => d, insetBottom: FH - maj, ...tk}));
  marks.push(Plot.tickX(xMin, {x: d => d, insetBottom: FH - min, ...tk}));
  marks.push(Plot.tickY(yMaj, {y: d => d, insetRight: W - maj, ...tk}));
  marks.push(Plot.tickY(yMin, {y: d => d, insetRight: W - min, ...tk}));
  marks.push(Plot.tickY(yMaj, {y: d => d, insetLeft: W - maj, ...tk}));
  marks.push(Plot.tickY(yMin, {y: d => d, insetLeft: W - min, ...tk}));
  // frame
  marks.push(Plot.frame({stroke: "#1a1a1a", strokeWidth: 2.2}));
  // panel letter
  marks.push(Plot.text([p.letter], {frameAnchor: "top-left", dx: 17, dy: 13, textAnchor: "start", lineAnchor: "top", fontSize: 24, fontWeight: "bold", fill: "#000"}));
  if (left) {
    marks.push(Plot.text(yTickLabels, {frameAnchor: "left", y: d => d, text: d => d.toFixed(1), textAnchor: "end", lineAnchor: "middle", dx: -3, fontSize: 17, fontWeight: "bold", fill: "#000"}));
    marks.push(Plot.text(["Relative Absorptivity"], {frameAnchor: "left", dx: -50, dy: 6, rotate: -90, textAnchor: "middle", lineAnchor: "middle", fontSize: 17, fontWeight: "bold", fill: "#000"}));
  }
  if (bottom) {
    marks.push(Plot.text(xTickLabels, {frameAnchor: "bottom", x: d => d, text: d => String(d), dy: 14, textAnchor: "middle", lineAnchor: "middle", fontSize: 18, fontWeight: "bold", fill: "#000"}));
    marks.push(Plot.text(["Wavelength (nm)"], {frameAnchor: "bottom", dy: 32, textAnchor: "middle", lineAnchor: "middle", fontSize: 18, fontWeight: "bold", fill: "#000"}));
  }
  const svg = Plot.plot({
    width: W + mL + mR, height: FH + mT + mB,
    marginLeft: mL, marginRight: mR, marginTop: mT, marginBottom: mB,
    x: {domain: xDom, axis: null},
    y: {domain: [-1.1, 1.1], axis: null},
    style: {fontFamily: FONT, background: "transparent", overflow: "visible"},
    marks
  });
  svg.style.left = (colLeft[p.col] - mL) + "px";
  svg.style.top = (rowTop[p.row] - mT) + "px";
  fig.appendChild(svg);
}
</script>
</body></html>
